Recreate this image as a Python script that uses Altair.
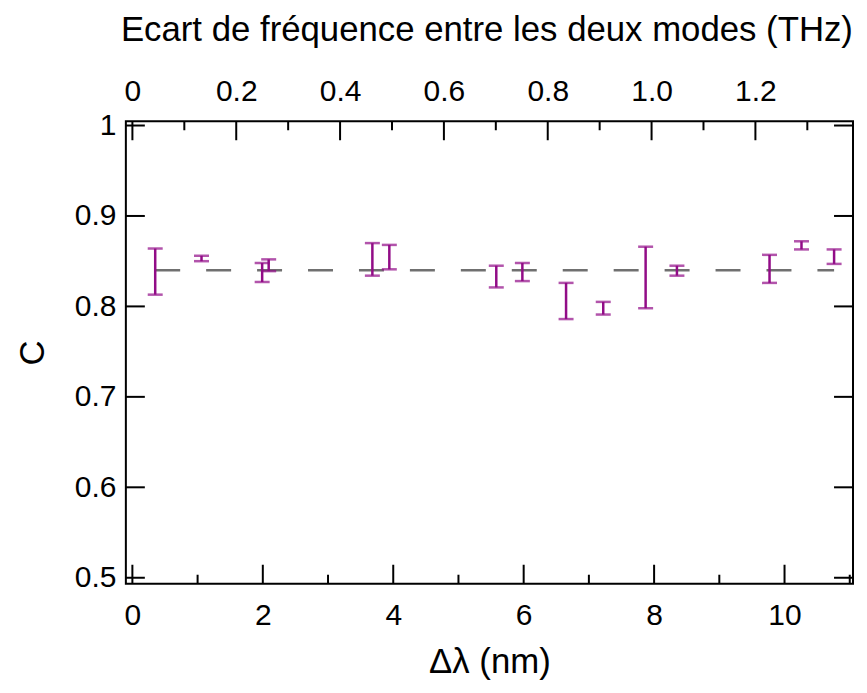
import altair as alt
import pandas as pd

# ---- data ----
dl_nm = [0.35, 1.06, 1.99, 2.09, 3.68, 3.94, 5.58, 5.98, 6.65, 7.22, 7.87, 8.35, 9.77, 10.26, 10.76]
c_top = [0.864, 0.856, 0.848, 0.852, 0.870, 0.868, 0.845, 0.848, 0.826, 0.805, 0.866, 0.845, 0.857, 0.872, 0.863]
c_bot = [0.813, 0.850, 0.827, 0.839, 0.834, 0.841, 0.821, 0.828, 0.786, 0.791, 0.798, 0.834, 0.826, 0.863, 0.847]
fit_x = [0.35, 10.76]
fit_c = [0.84, 0.84]

x_major = [0, 2, 4, 6, 8, 10]
x_minor = [1, 3, 5, 7, 9, 11]
f_major = [0, 0.2, 0.4, 0.6, 0.8, 1.0, 1.2]
f_minor = [0.1, 0.3, 0.5, 0.7, 0.9, 1.1, 1.3]
c_major = [0.5, 0.6, 0.7, 0.8, 0.9, 1.0]

x_title = "Δλ (nm)"
f_title = "Ecart de fréquence entre les deux modes (THz)"
y_title = "C"

PURPLE = "#920c87"
FONT = "Liberation Sans"
W, H = 728, 463
MAJ, MIN = 19, 9

xs = alt.Scale(domain=[-0.10, 11.05], nice=False, zero=False)
fs = alt.Scale(domain=[-0.0126, 1.388], nice=False, zero=False)
ys = alt.Scale(domain=[0.4934, 1.0047], nice=False, zero=False)

common_axis = dict(
    ticks=False, domain=False, grid=False,
    labelFont=FONT, labelFontSize=30, labelColor="black",
    labelFlush=False, labelOverlap=False,
    titleFont=FONT, titleFontSize=34.8, titleFontWeight="normal", titleColor="black",
)

y_axis = alt.Axis(
    orient="left", values=c_major, format="~g", labelPadding=10,
    title=y_title, titleX=-82, titleBaseline="alphabetic", **common_axis)

bars_df = pd.DataFrame({"x": dl_nm, "top": c_top, "bot": c_bot})

dash = alt.Chart(pd.DataFrame({"x": fit_x, "c": fit_c})).mark_line(
    color="#707070", strokeWidth=2.5, strokeDash=[25, 26]
).encode(
    x=alt.X("x:Q", scale=xs, axis=None),
    y=alt.Y("c:Q", scale=ys, axis=y_axis),
)

stem = alt.Chart(bars_df).mark_rule(color=PURPLE, strokeWidth=2.5).encode(
    x=alt.X("x:Q", scale=xs, axis=alt.Axis(
        orient="bottom", values=x_major, labelPadding=17,
        title=x_title, titleY=89, titleBaseline="alphabetic", **common_axis)),
    y=alt.Y("top:Q", scale=ys, axis=y_axis),
    y2="bot:Q",
)
cap_t = alt.Chart(bars_df).mark_tick(color=PURPLE, orient="horizontal", size=15, thickness=2.5).encode(
    x=alt.X("x:Q", scale=xs, axis=None),
    y=alt.Y("top:Q", scale=ys, axis=y_axis),
)
cap_b = alt.Chart(bars_df).mark_tick(color=PURPLE, orient="horizontal", size=15, thickness=2.5).encode(
    x=alt.X("x:Q", scale=xs, axis=None),
    y=alt.Y("bot:Q", scale=ys, axis=y_axis),
)

bmaj = alt.Chart(pd.DataFrame({"v": x_major})).mark_rule(color="black", strokeWidth=2).encode(
    x=alt.X("v:Q", scale=xs, axis=None),
    y=alt.value(H), y2=alt.value(H - MAJ),
)
bmin = alt.Chart(pd.DataFrame({"v": x_minor})).mark_rule(color="black", strokeWidth=2).encode(
    x=alt.X("v:Q", scale=xs, axis=None),
    y=alt.value(H), y2=alt.value(H - MIN),
)

lmaj = alt.Chart(pd.DataFrame({"v": c_major})).mark_rule(color="black", strokeWidth=2).encode(
    y=alt.Y("v:Q", scale=ys, axis=y_axis),
    x=alt.value(0), x2=alt.value(MAJ),
)
rmaj = alt.Chart(pd.DataFrame({"v": c_major})).mark_rule(color="black", strokeWidth=2).encode(
    y=alt.Y("v:Q", scale=ys, axis=y_axis),
    x=alt.value(W), x2=alt.value(W - MAJ),
)

tmaj = alt.Chart(pd.DataFrame({"f": f_major})).mark_rule(color="black", strokeWidth=2).encode(
    x=alt.X("f:Q", scale=fs, axis=alt.Axis(
        orient="top", values=f_major, labelPadding=15,
        labelExpr="datum.value == 0 ? '0' : format(datum.value, '.1f')",
        title=f_title, titleX=361, titleY=-81, titleBaseline="alphabetic", **common_axis)),
    y=alt.value(0), y2=alt.value(MAJ),
)
tmin = alt.Chart(pd.DataFrame({"f": f_minor})).mark_rule(color="black", strokeWidth=2).encode(
    x=alt.X("f:Q", scale=fs, axis=None),
    y=alt.value(0), y2=alt.value(MIN),
)

chart = alt.layer(
    dash, stem, cap_t, cap_b, bmaj, bmin, lmaj, rmaj, tmaj, tmin
).resolve_scale(x="independent").properties(
    width=W, height=H,
    padding={"left": 118, "top": 113, "right": 6, "bottom": 100},
    autosize=alt.AutoSizeParams(type="none"),
).configure(font=FONT).configure_view(stroke="black", strokeWidth=2)

chart.save("out.html", embed_options={"renderer": "svg", "actions": False})
